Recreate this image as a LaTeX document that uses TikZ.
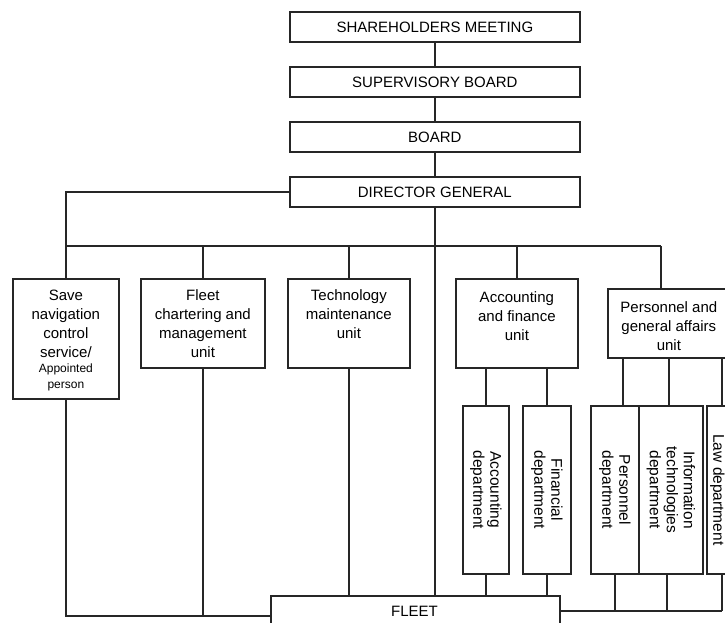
\documentclass[tikz,border=0pt]{standalone}
\usepackage{fontspec}
\setmainfont{Liberation Sans}
\usetikzlibrary{calc}
\begin{document}
\begin{tikzpicture}[x=1pt,y=-1pt,
  box/.style={draw=black!85, line width=1.7pt, inner sep=0pt, anchor=north west, font=\fontsize{15}{19}\selectfont},
  ln/.style={draw=black!85, line width=1.7pt},
  txt/.style={font=\fontsize{15}{19}\selectfont, align=center, inner sep=0pt},
  vtxt/.style={font=\fontsize{15.5}{17}\selectfont, align=center, inner sep=0pt, rotate=-90}
]
\useasboundingbox (0,0) rectangle (725,622);
\clip (0,0) rectangle (725,622);
\fill[white] (0,0) rectangle (725,622);

% top chain
\node[box, minimum width=290, minimum height=30] (sh) at (289,11) {SHAREHOLDERS MEETING};
\node[box, minimum width=290, minimum height=30] (sup) at (289,66) {SUPERVISORY BOARD};
\node[box, minimum width=290, minimum height=30] (brd) at (289,121) {BOARD};
\node[box, minimum width=290, minimum height=30] (dg) at (289,176) {DIRECTOR GENERAL};

% units
\node[box, minimum width=106, minimum height=120] (sav) at (12,278) {};
\node[txt, anchor=north] (savt) at ($(sav.north)+(0,11.5)$) {Save\\navigation\\control\\service/\\[-3.5pt]{\fontsize{12}{15}\selectfont Appointed}\\[-3.5pt]{\fontsize{12}{15}\selectfont person}};

\node[box, minimum width=124, minimum height=89] (fch) at (140,278) {};
\node[txt, anchor=north] (fcht) at ($(fch.north)+(0,11.5)$) {Fleet\\chartering and\\management\\unit};

\node[box, minimum width=122, minimum height=89] (tech) at (287,278) {};
\node[txt, anchor=north] (techt) at ($(tech.north)+(0,11.5)$) {Technology\\maintenance\\unit};

\node[box, minimum width=122, minimum height=89] (acc) at (455,278) {};
\node[txt, anchor=north] (acct) at ($(acc.north)+(0,13)$) {Accounting\\and finance\\unit};

\node[box, minimum width=122, minimum height=69] (pers) at (607,288) {};
\node[txt, anchor=north] (perst) at ($(pers.north)+(0,13.5)$) {Personnel and\\general affairs\\unit};

% departments
\node[box, minimum width=46, minimum height=168] (accd) at (462,405) {};
\node[vtxt] (accdt) at (accd.center) {Accounting\\department};
\node[box, minimum width=48, minimum height=168] (find) at (522,405) {};
\node[vtxt] (findt) at (find.center) {Financial\\department};
\node[box, minimum width=48, minimum height=168] (persd) at (590,405) {};
\node[vtxt] (persdt) at (persd.center) {Personnel\\department};
\node[box, minimum width=64, minimum height=168] (itd) at (638,405) {};
\node[vtxt] (itdt) at (itd.center) {Information\\technologies\\department};
\node[box, minimum width=21, minimum height=168] (lawd) at (706,405) {};
\node[vtxt] (lawdt) at (lawd.center) {Law department};

% fleet
\node[box, minimum width=289, minimum height=40] (fleet) at (270,595) {};
\node[txt] (fleett) at (414.5,611) {FLEET};

% connectors: top chain
\draw[ln] (sh.south) -- (sup.north);
\draw[ln] (sup.south) -- (brd.north);
\draw[ln] (brd.south) -- (dg.north);
\draw[ln] (dg.south) -- (dg.south |- fleet.north);
\draw[ln] (dg.west) -| (sav.north);

% bus
\coordinate (busL) at (65,246);
\coordinate (busR) at (661,246);
\draw[ln] (busL) -- (busR);
\draw[ln] (busR) -- (busR |- pers.north);
\draw[ln] (fch.north) -- (fch.north |- busL);
\draw[ln] (tech.north) -- (tech.north |- busL);
\draw[ln] (acc.north) -- (acc.north |- busL);

% lower left
\coordinate (yb) at (0,616);
\coordinate (yr) at (0,611);
\draw[ln] (sav.south) |- (fleet.west |- yb);
\draw[ln] (fch.south) -- (fch.south |- yb);
\draw[ln] (tech.south) -- (tech.south |- fleet.north);

% accounting departments
\draw[ln] (acc.south -| accd.north) -- (accd.north);
\draw[ln] (acc.south -| find.north) -- (find.north);
\draw[ln] (accd.south) -- (accd.south |- fleet.north);
\draw[ln] (find.south) -- (find.south |- fleet.north);

% personnel departments
\coordinate (p1) at (623,0);
\coordinate (p2) at (669,0);
\coordinate (p3) at (722,0);
\coordinate (q2) at (667,0);
\draw[ln] (pers.south -| p1) -- (persd.north -| p1);
\draw[ln] (pers.south -| p2) -- (itd.north -| p2);
\draw[ln] (pers.south -| p3) -- (lawd.north -| p3);
\draw[ln] (persd.south) -- (persd.south |- yr);
\draw[ln] (itd.south -| q2) -- (q2 |- yr);
\draw[ln] (lawd.south -| p3) -- (p3 |- yr);
\draw[ln] (fleet.east |- yr) -- (p3 |- yr);
\end{tikzpicture}
\end{document}
